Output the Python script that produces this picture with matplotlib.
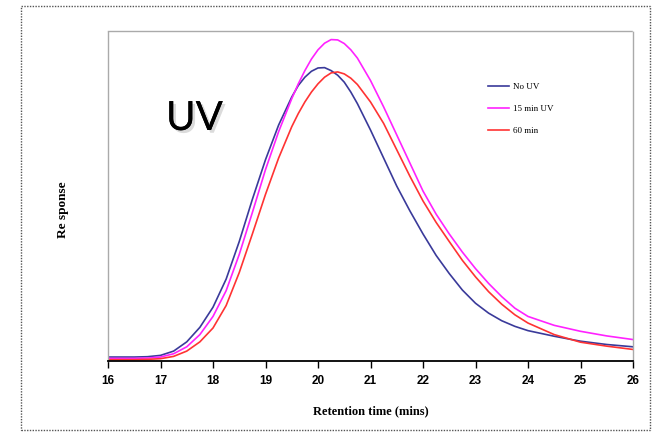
import matplotlib
matplotlib.use("Agg")
import matplotlib.pyplot as plt
import matplotlib.patheffects as pe
from matplotlib.patches import Rectangle

# retention time (mins) and detector response
t = [16, 16.5, 16.75, 17, 17.25, 17.5, 17.75, 18, 18.25, 18.5, 18.75, 19, 19.25, 19.5,
     19.625, 19.75, 19.875, 20, 20.125, 20.25, 20.375, 20.5, 20.625, 20.75,
     21, 21.25, 21.5, 21.75, 22, 22.25, 22.5, 22.75, 23, 23.25, 23.5, 23.75,
     24, 24.5, 25, 25.5, 26]

no_uv = [0.012, 0.012, 0.013, 0.017, 0.03, 0.058, 0.102, 0.163, 0.248, 0.362, 0.49, 0.61, 0.715, 0.80,
         0.835, 0.86, 0.878, 0.888, 0.889, 0.88, 0.866, 0.845, 0.815, 0.78,
         0.70, 0.615, 0.53, 0.455, 0.385, 0.32, 0.265, 0.215, 0.175, 0.145, 0.122, 0.105,
         0.092, 0.075, 0.06, 0.05, 0.043]

uv_15 = [0.008, 0.008, 0.009, 0.012, 0.022, 0.043, 0.08, 0.135, 0.213, 0.323, 0.45, 0.58, 0.695, 0.795,
         0.84, 0.88, 0.915, 0.943, 0.963, 0.974, 0.973, 0.962, 0.943, 0.918,
         0.85, 0.77, 0.685, 0.60, 0.515, 0.445, 0.385, 0.33, 0.28, 0.235, 0.195, 0.16,
         0.135, 0.108, 0.09, 0.076, 0.065]

uv_60 = [0.004, 0.004, 0.005, 0.007, 0.014, 0.03, 0.058, 0.1, 0.168, 0.268, 0.385, 0.505, 0.615, 0.71,
         0.75, 0.785, 0.815, 0.84, 0.86, 0.873, 0.876, 0.87, 0.857, 0.838,
         0.785, 0.72, 0.64, 0.56, 0.485, 0.42, 0.362, 0.305, 0.255, 0.21, 0.172, 0.14,
         0.115, 0.08, 0.057, 0.045, 0.035]

labels = ["No UV", "15 min UV", "60 min"]
xticks = list(range(16, 27))

fig = plt.figure(figsize=(6.52, 4.33), dpi=100)
ax = fig.add_axes([108/652, 1 - 361/433, 525/652, 330/433])

ax.plot(t, no_uv, color="#3a3a9a", lw=1.2, label=labels[0], solid_joinstyle="round")
ax.plot(t, uv_15, color="#ff22ff", lw=1.2, label=labels[1], solid_joinstyle="round")
ax.plot(t, uv_60, color="#ff3333", lw=1.2, label=labels[2], solid_joinstyle="round")

ax.set_xlim(16, 26)
ax.set_ylim(0, 1)
ax.set_yticks([])
ax.set_xticks(xticks)
ax.set_xticklabels([str(v) for v in xticks], fontsize=8.5, fontweight="bold",
                   family="Liberation Sans")
ax.tick_params(axis="x", direction="out", length=5, width=1, pad=5)

for s in ["left", "top", "right"]:
    ax.spines[s].set_color("#aaaaaa")
    ax.spines[s].set_linestyle((0, (1, 1)))
    ax.spines[s].set_linewidth(1.0)
ax.spines["bottom"].set_color("black")
ax.spines["bottom"].set_linewidth(1.3)

ax.set_xlabel("Retention time (mins)", fontsize=9, fontweight="bold",
              family="Liberation Serif", labelpad=13)
fig.text(63/652, 1 - 210/433, "Re sponse", rotation=90, fontsize=9.5, fontweight="bold",
         family="Liberation Serif", ha="center", va="center")

fig.text(166/652, 1 - 130/433, "UV", fontsize=29, family="Lato", color="black",
         ha="left", va="baseline",
         path_effects=[pe.withSimplePatchShadow(offset=(2, -2), shadow_rgbFace="#999999", alpha=0.35),
                       pe.Normal()])

ax.legend(loc="upper left", bbox_to_anchor=((483 - 108) / 525, (361 - 78) / 330),
          frameon=False, prop={"family": "Liberation Serif", "size": 6.5},
          handlelength=2.4, handletextpad=0.4, labelspacing=1.55, borderpad=0)

# outer dotted frame around the whole chart
fig.patches.append(Rectangle((21/652, 1 - 430/433), 629/652, 424/433, transform=fig.transFigure,
                             fill=False, edgecolor="#555555", linestyle=(0, (1, 1)), lw=1.0))

fig.savefig("out.png", dpi=100)
